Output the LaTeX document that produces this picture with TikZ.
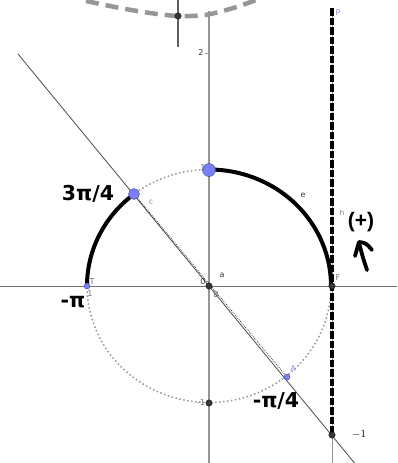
\documentclass[tikz,border=0pt]{standalone}
\usepackage{fontspec}
\setmainfont{DejaVu Sans}
\newfontfamily\arialfont{Liberation Sans}
\definecolor{ptblue}{RGB}{122,128,250}
\definecolor{ptdark}{RGB}{55,55,55}
\definecolor{axgray}{RGB}{115,115,115}
\definecolor{ygray}{RGB}{150,150,150}
\definecolor{dotgray}{RGB}{150,150,150}
\definecolor{lblblue}{RGB}{140,140,250}
\begin{document}
\begin{tikzpicture}[x=1pt,y=-1pt,
  axisline/.style={draw=axgray,line width=0.9pt},
  yaxisline/.style={draw=ygray,line width=1.2pt},
  thinline/.style={draw=ptdark!90,line width=0.8pt},
  arcline/.style={draw=black,line width=4pt,line cap=round},
  dottedcircle/.style={draw=dotgray,line width=1.5pt,dash pattern=on 1.5pt off 2.5pt},
  bluept/.style={circle,fill=ptblue,draw=ptblue!55!black,line width=0.4pt,inner sep=0pt,minimum size=#1},
  darkpt/.style={circle,fill=ptdark,draw=black,line width=0.3pt,inner sep=0pt,minimum size=6.5pt},
  smalllab/.style={font=\fontsize{8}{9}\selectfont,text=#1,inner sep=0pt},
  smalllab/.default=ptdark,
  biglab/.style={font=\fontsize{20.5}{24}\selectfont\bfseries,inner sep=0pt},
]
\useasboundingbox (0,0) rectangle (397,463);
% named coordinates
\coordinate (O) at (209,286);
\coordinate (xl) at (0,286);
\coordinate (xr) at (397,286);
\coordinate (yt) at (209,11);
\coordinate (yb) at (209,463);
\coordinate (dl) at (18,54);
\coordinate (dr) at (354.5,463);
\coordinate (vt) at (332,8);
\coordinate (vb) at (332,463);
\coordinate (vm) at (332,435);
\coordinate (st) at (178,0);
\coordinate (sb) at (178,47);
\coordinate (t2a) at (205,53);
\coordinate (t2b) at (209,53);

% top dashed gray arc
\draw[draw=ygray,line width=4.5pt,dash pattern=on 13pt off 7pt]
  plot[smooth] coordinates {(86,1) (120,8) (150,13) (178,16) (205,15) (230,9) (248,3) (264,-3)};

% axes
\draw[axisline] (xl) -- (xr);
\draw[yaxisline] (yt) -- (yb);
\draw[yaxisline,line width=0.8pt] (t2a) -- (t2b);
\node[smalllab] at (201,53) {2};

% short vertical line at top
\draw[thinline,line width=1.2pt,draw=ptdark!80] (st) -- (sb);

% dotted unit circle
\draw[dottedcircle] plot[domain=0:360,samples=160] ({209+122*cos(\x)},{286-116.5*sin(\x)});

% diagonal line
\draw[thinline] (dl) -- (dr);

% vertical line x=1
\draw[draw=ygray,line width=1pt] (vt) -- (vb);
\draw[draw=black,line width=3.6pt,dash pattern=on 7.5pt off 2pt] (vt) -- (vm);

% thick arcs
\draw[arcline] plot[domain=180:127.9,samples=40] ({209+122*cos(\x)},{286-116.5*sin(\x)});
\draw[arcline] plot[domain=90:0,samples=60] ({209+122*cos(\x)},{286-116.5*sin(\x)});

% points
\node[bluept=11pt] (C) at (134,194) {};
\node[bluept=13pt] (T) at (209,170) {};
\node[bluept=6pt] (L) at (87,286) {};
\node[bluept=6pt] (A) at (287,377) {};
\node[darkpt] (Op) at (O) {};
\node[darkpt] (F) at (332,286) {};
\node[darkpt] (Bm) at (209,403) {};
\node[darkpt] (M) at (vm) {};
\node[darkpt] (S) at (178,16) {};

% dotted segment C--A
\draw[draw=ptdark,line width=0.8pt,dash pattern=on 0.8pt off 1.2pt] (C) -- (A);

% small labels
\node[smalllab=dotgray] at (151,202) {c};
\node[smalllab] at (303,195) {e};
\node[smalllab] at (222,275) {a};
\node[smalllab=axgray] at (338,278) {F};
\node[smalllab] at (203,282) {0};
\node[smalllab=axgray] at (216,295) {B};
\node[smalllab=axgray] at (203,168) {1};
\node[smalllab=axgray] at (201,403) {-1};
\node[smalllab=axgray] at (90,294) {1};
\node[smalllab=axgray] at (92,282) {T};
\node[smalllab=axgray,font=\fontsize{7}{8}\selectfont] at (342,213) {h};
\node[smalllab=lblblue] at (293,369) {A};
\node[smalllab=lblblue] at (338,13) {P};
\node[inner sep=0pt,font=\fontsize{11}{12}\selectfont] at (359,434) {$-1$};

% big labels
\node[biglab] at (88,194) {3π/4};
\node[biglab] at (73,302) {-π};
\node[biglab] at (276,401) {-π/4};
\node[inner sep=0pt,font=\arialfont\fontsize{21}{24}\selectfont\bfseries] at (361,222) {(+)};

% hand-drawn arrow
\draw[line width=3.8pt,line cap=round,line join=round]
  (367,270) .. controls (363,258) .. (359,243);
\draw[line width=3.8pt,line cap=round,line join=round]
  (355,256) -- (359,242) .. controls (366,243) .. (372,250);
\end{tikzpicture}
\end{document}
